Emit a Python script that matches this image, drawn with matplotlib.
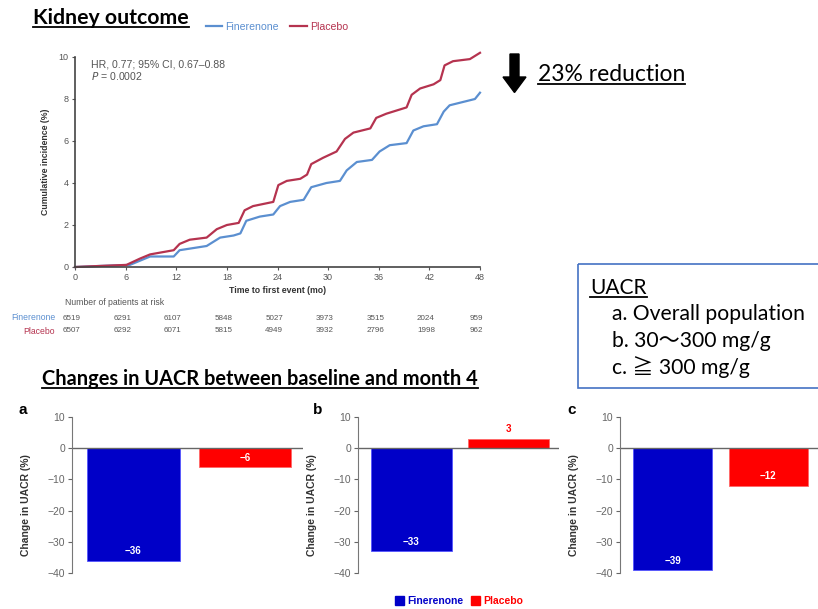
import matplotlib
matplotlib.use("Agg")
import matplotlib.pyplot as plt
from matplotlib.patches import Rectangle, Polygon, Patch
from matplotlib.lines import Line2D
from matplotlib.transforms import blended_transform_factory

# ---- data ----
# Kaplan-Meier style cumulative incidence (%)
fin_t = [0, 3, 6.5, 7.7, 8.9, 11.7, 12.4, 14, 15.6, 17.2, 18.8, 19.6, 20.3, 21.9, 23.5, 24.3, 25.5, 27.1,
         28, 29.8, 31.4, 32.2, 33.4, 35.2, 36.1, 37.3, 39.3, 40.1, 41.3, 42.9, 43.7, 44.4, 46.4, 47.4, 48]
fin_y = [0, 0.05, 0.1, 0.3, 0.5, 0.5, 0.8, 0.9, 1.0, 1.4, 1.5, 1.6, 2.2, 2.4, 2.5, 2.9, 3.1, 3.2,
         3.8, 4.0, 4.1, 4.6, 5.0, 5.1, 5.5, 5.8, 5.9, 6.5, 6.7, 6.8, 7.4, 7.7, 7.9, 8.0, 8.3]
pla_t = [0, 3, 6.1, 7.7, 8.9, 11.7, 12.4, 13.6, 15.6, 16.8, 18, 19.4, 20.1, 21.1, 23.5, 24.1, 25.1, 26.7,
         27.5, 28, 29.4, 31, 32, 33, 35, 35.7, 36.9, 38.5, 39.3, 39.9, 40.9, 42.5, 43.3, 43.8, 44.8, 46.8, 48]
pla_y = [0, 0.05, 0.1, 0.4, 0.6, 0.8, 1.1, 1.3, 1.4, 1.8, 2.0, 2.1, 2.7, 2.9, 3.1, 3.9, 4.1, 4.2,
         4.4, 4.9, 5.2, 5.5, 6.1, 6.4, 6.6, 7.1, 7.3, 7.5, 7.6, 8.2, 8.5, 8.7, 8.9, 9.6, 9.8, 9.9, 10.2]

risk_months = [0, 6, 12, 18, 24, 30, 36, 42, 48]
risk_fin = [6519, 6291, 6107, 5848, 5027, 3973, 3515, 2024, 959]
risk_pla = [6507, 6292, 6071, 5815, 4949, 3932, 2796, 1998, 962]

groups = ["Finerenone", "Placebo"]
uacr_a = [-36, -6]
uacr_b = [-33, 3]
uacr_c = [-39, -12]

W, H = 818, 609
fin_line = "#5b8fd0"
pla_line = "#b5334f"
blue = "#0000c8"
red = "#ff0000"
grey = "#555555"
small = "Liberation Sans"
head = ["Lato", "Noto Sans CJK JP"]

fig = plt.figure(figsize=(W / 100, H / 100), dpi=100)


def box(x0, y0, x1, y1):
    return [x0 / W, 1 - y1 / H, (x1 - x0) / W, (y1 - y0) / H]


# overlay in pixel coords for annotations
ov = fig.add_axes([0, 0, 1, 1])
ov.set_xlim(0, W)
ov.set_ylim(H, 0)
ov.axis("off")

# ---- kidney outcome curve ----
km = fig.add_axes(box(75, 57, 480, 267))
km.plot(fin_t, fin_y, color=fin_line, lw=1.6, clip_on=False)
km.plot(pla_t, pla_y, color=pla_line, lw=1.6, clip_on=False)
km.set_xlim(0, 48)
km.set_ylim(0, 10)
km.set_xticks(risk_months)
km.set_yticks([0, 2, 4, 6, 8, 10])
for s in ["top", "right"]:
    km.spines[s].set_visible(False)
for s in ["left", "bottom"]:
    km.spines[s].set_color("#444444")
    km.spines[s].set_linewidth(1.2)
km.tick_params(labelsize=6.5, colors=grey, length=2.5, width=0.8, pad=2)
for lab in km.get_xticklabels() + km.get_yticklabels():
    lab.set_fontfamily(small)
km.set_xlabel("Time to first event (mo)", fontsize=6.3, fontweight="bold", color="#333333",
              family=small, labelpad=3)
km.set_ylabel("Cumulative incidence (%)", fontsize=6.3, fontweight="bold", color="#333333",
              family=small, labelpad=6)
km.text(0.04, 0.965, "HR, 0.77; 95% CI, 0.67\u20130.88", transform=km.transAxes, fontsize=7.6,
        color=grey, family=small, va="center")
km.text(0.04, 0.91, "$P$ = 0.0002", transform=km.transAxes, fontsize=7.6,
        color=grey, family=small, va="center")

# number at risk table
tr = blended_transform_factory(km.transData, fig.transFigure)
fig.text(65 / W, 1 - 303 / H, "Number of patients at risk", fontsize=6.2, color=grey,
         family=small, va="center")
fig.text(55 / W, 1 - 318 / H, "Finerenone", fontsize=6.2, color=fin_line, family=small,
         va="center", ha="right")
fig.text(55 / W, 1 - 331 / H, "Placebo", fontsize=6.2, color=pla_line, family=small,
         va="center", ha="right")
for m, a, b in zip(risk_months, risk_fin, risk_pla):
    km.text(m - 0.4, 1 - 318 / H, str(a), transform=tr, fontsize=5.8, color=grey, family=small,
            ha="center", va="center")
    km.text(m - 0.4, 1 - 331 / H, str(b), transform=tr, fontsize=5.8, color=grey, family=small,
            ha="center", va="center")

leg = fig.legend(handles=[Line2D([], [], color=fin_line, lw=1.6, label="Finerenone"),
                          Line2D([], [], color=pla_line, lw=1.6, label="Placebo")],
                 loc="center left", bbox_to_anchor=(196 / W, 1 - 27 / H), ncol=2, frameon=False,
                 handlelength=1.6, handletextpad=0.3, columnspacing=1.0,
                 prop={"family": small, "size": 7.6})
leg.get_texts()[0].set_color(fin_line)
leg.get_texts()[1].set_color(pla_line)

# ---- UACR bar panels ----
panels = [("a", uacr_a, (72, 303), 23), ("b", uacr_b, (358, 559), 318), ("c", uacr_c, (620, 818), 572)]
for letter, vals, (x0, x1), lx in panels:
    ax = fig.add_axes(box(x0, 417, x1, 573))
    ax.bar([0, 1], vals, width=0.83, color=[blue, red], edgecolor=["#5555ff", "#ff6666"], lw=0.6)
    ax.set_xlim(-0.55, 1.52)
    ax.set_ylim(-40, 10)
    ax.axhline(0, color="#666666", lw=1)
    for s in ["top", "right", "bottom"]:
        ax.spines[s].set_visible(False)
    ax.spines["left"].set_color("#777777")
    ax.set_xticks([])
    ax.set_yticks([10, 0, -10, -20, -30, -40])
    ax.set_yticklabels(["10", "0", "\u221210", "\u221220", "\u221230", "\u221240"])
    ax.tick_params(labelsize=7.5, colors="#666666", length=3, pad=2)
    for lab in ax.get_yticklabels():
        lab.set_fontfamily(small)
    ax.set_ylabel("Change in UACR (%)", fontsize=7.5, fontweight="bold", family=small,
                  color="#333333")
    ax.yaxis.set_label_coords(-41 / (x1 - x0), (573 - 505) / 156)
    for i, v in enumerate(vals):
        txt = str(v).replace("-", "\u2212")
        if v < 0:
            ax.text(i, v + 3, txt, ha="center", va="center", color="white", fontsize=7,
                    fontweight="bold", family=small)
        else:
            ax.text(i, v + 3, txt, ha="center", va="center", color=red, fontsize=7,
                    fontweight="bold", family=small)
    ov.text(lx, 410, letter, fontsize=11, fontweight="bold", family=small,
            ha="center", va="center")

ov.text(188, 422, "Ratio of LS means (95% CI)", fontsize=7.5, fontweight="bold", family=small,
        color="#333333", ha="center", va="center")
ov.text(188, 437, "0.68 (0.66\u20130.70)", fontsize=7.5, fontweight="bold", family=small,
        color="#333333", ha="center", va="center")

leg2 = fig.legend(handles=[Patch(color=blue, label=groups[0]), Patch(color=red, label=groups[1])],
                  loc="center", bbox_to_anchor=(459 / W, 1 - 601 / H), ncol=2, frameon=False,
                  handlelength=0.9, handleheight=0.9, handletextpad=0.3, columnspacing=0.7,
                  prop={"family": small, "size": 7.5, "weight": "bold"})
leg2.get_texts()[0].set_color(blue)
leg2.get_texts()[1].set_color(red)

# ---- headings and notes ----
underlined = []
underlined.append(ov.text(33, 24, "Kidney outcome", fontsize=15.3, fontweight="bold",
                          family=head, va="baseline"))
underlined.append(ov.text(538, 81, "23% reduction", fontsize=16.5, family=head, va="baseline"))
underlined.append(ov.text(42, 385, "Changes in UACR between baseline and month 4", fontsize=14.4,
                          fontweight="bold", family=head, va="baseline"))
underlined.append(ov.text(590, 294, "UACR", fontsize=15, family=head, va="baseline"))
ov.text(612, 320, "a. Overall population", fontsize=15.2, family=head, va="baseline")
ov.text(612, 347, "b. 30\uff5e300 mg/g", fontsize=15.2, family=head, va="baseline")
ov.text(612, 374, "c. \u2267 300 mg/g", fontsize=15.2, family=head, va="baseline")

ov.add_patch(Rectangle((578, 264), 260, 124, fill=False, edgecolor="#4472c4", lw=1.2,
                       clip_on=False))
ov.add_patch(Polygon([(510, 54), (519, 54), (519, 77), (526, 77), (514.5, 92.5), (503, 77),
                      (510, 77)], closed=True, color="black"))

fig.canvas.draw()
inv = ov.transData.inverted()
for t in underlined:
    bb = t.get_window_extent()
    x_a, y_a = inv.transform((bb.x0, bb.y0))
    x_b, _ = inv.transform((bb.x1, bb.y0))
    ov.plot([x_a, x_b], [y_a - 1, y_a - 1], color="black", lw=1.3)
ov.set_xlim(0, W)
ov.set_ylim(H, 0)

fig.savefig("out.png", dpi=100)
